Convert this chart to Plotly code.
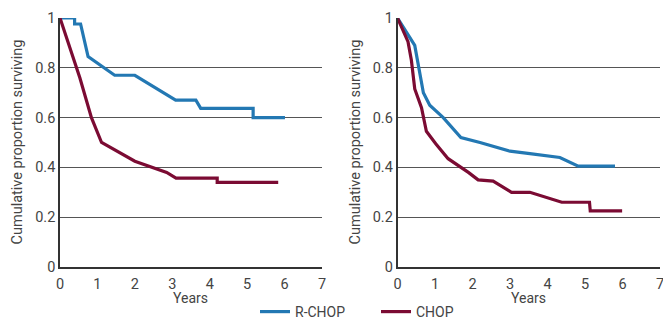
import plotly.graph_objects as go

# Left panel
left_rchop_x = [0, 0.39, 0.39, 0.55, 0.75, 1.46, 2.0, 3.09, 3.63, 3.76, 5.16, 5.16, 6.01]
left_rchop_y = [1.0, 1.0, 0.976, 0.976, 0.845, 0.77, 0.77, 0.67, 0.67, 0.637, 0.637, 0.60, 0.60]
left_chop_x = [0, 0.53, 0.84, 1.11, 2.0, 2.85, 3.1, 4.2, 4.2, 5.83]
left_chop_y = [1.0, 0.76, 0.60, 0.50, 0.425, 0.38, 0.357, 0.357, 0.34, 0.34]

# Right panel
right_rchop_x = [0, 0.46, 0.69, 0.86, 1.22, 1.69, 2.2, 3.0, 3.53, 4.33, 4.82, 5.8]
right_rchop_y = [1.0, 0.89, 0.70, 0.65, 0.60, 0.52, 0.50, 0.465, 0.455, 0.44, 0.405, 0.405]
right_chop_x = [0, 0.28, 0.37, 0.46, 0.64, 0.77, 1.02, 1.35, 1.89, 2.15, 2.55, 3.04, 3.53, 4.38, 5.12, 5.14, 5.99]
right_chop_y = [1.0, 0.905, 0.83, 0.715, 0.64, 0.545, 0.495, 0.435, 0.38, 0.35, 0.345, 0.30, 0.30, 0.26, 0.26, 0.225, 0.225]

x_ticks = [0, 1, 2, 3, 4, 5, 6, 7]
y_ticks = [0, 0.2, 0.4, 0.6, 0.8, 1]
y_tick_labels = ["0", "0.2", "0.4", "0.6", "0.8", "1"]
x_title = "Years"
y_title = "Cumulative proportion surviving"

BLUE = "#2378b3"
RED = "#7b0b33"
TXT = "#444444"
W, H = 663, 328
FONT = "Roboto"

fig = go.Figure()
fig.add_trace(go.Scatter(x=left_rchop_x, y=left_rchop_y, mode="lines", line=dict(color=BLUE, width=3.2),
                         name="R-CHOP", xaxis="x", yaxis="y", showlegend=True))
fig.add_trace(go.Scatter(x=left_chop_x, y=left_chop_y, mode="lines", line=dict(color=RED, width=3.2),
                         name="CHOP", xaxis="x", yaxis="y", showlegend=True))
fig.add_trace(go.Scatter(x=right_rchop_x, y=right_rchop_y, mode="lines", line=dict(color=BLUE, width=3.2),
                         name="R-CHOP", xaxis="x2", yaxis="y2", showlegend=False))
fig.add_trace(go.Scatter(x=right_chop_x, y=right_chop_y, mode="lines", line=dict(color=RED, width=3.2),
                         name="CHOP", xaxis="x2", yaxis="y2", showlegend=False))

xdom1 = [60 / W, 322 / W]
xdom2 = [397.5 / W, 660 / W]
ydom = [(H - 267) / H, (H - 18) / H]

xcommon = dict(range=[0, 7], tickvals=x_ticks, ticks="", showgrid=False, zeroline=False,
               showline=True, linecolor="#333333", linewidth=1.5, automargin=False,
               ticklabelstandoff=3, ticklabeloverflow="allow",
               tickfont=dict(family=FONT, size=14.5, color=TXT))
ycommon = dict(range=[0, 1], tickvals=y_ticks, ticktext=y_tick_labels, ticks="", showgrid=True,
               gridcolor="#555555", gridwidth=1, zeroline=False,
               showline=True, linecolor="#333333", linewidth=1.5, automargin=False,
               tickfont=dict(family=FONT, size=14.5, color=TXT))

annotations = []
for dom, xc in ((xdom1, 17), (xdom2, 355)):
    annotations.append(dict(text=x_title, xref="paper", yref="paper",
                            x=(dom[0] + dom[1]) / 2, y=(H - 298) / H, xanchor="center", yanchor="middle",
                            showarrow=False, font=dict(family=FONT, size=14, color=TXT)))
    annotations.append(dict(text=y_title, xref="paper", yref="paper", textangle=-90,
                            x=xc / W, y=(ydom[0] + ydom[1]) / 2, xanchor="center", yanchor="middle",
                            showarrow=False, font=dict(family=FONT, size=14.5, color=TXT)))

fig.update_layout(
    width=W, height=H,
    margin=dict(l=0, r=0, t=0, b=0),
    paper_bgcolor="white", plot_bgcolor="white",
    xaxis=dict(domain=xdom1, anchor="y", **xcommon),
    yaxis=dict(domain=ydom, anchor="x", **ycommon),
    xaxis2=dict(domain=xdom2, anchor="y2", **xcommon),
    yaxis2=dict(domain=ydom, anchor="x2", **ycommon),
    annotations=annotations,
    legend=dict(orientation="h", x=255 / W, xanchor="left", y=0, yanchor="bottom",
                font=dict(family=FONT, size=14, color=TXT), entrywidth=76, entrywidthmode="pixels",
                bgcolor="rgba(0,0,0,0)"),
)

fig.write_html("out.html")
